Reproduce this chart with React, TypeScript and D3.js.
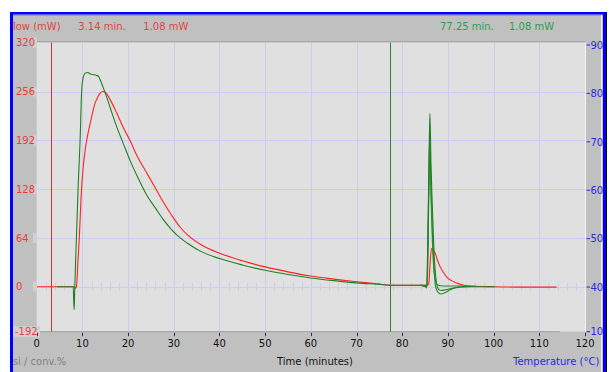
import * as d3 from 'd3'

// time axis (minutes)
const timeTicks = [0, 10, 20, 30, 40, 50, 60, 70, 80, 90, 100, 110, 120]
const zeroMinorTicks = d3.range(2, 120, 2)

// heat flow axis (mW), left side
const heatTicks = [320, 256, 192, 128, 64, 0]
const heatGrid = [256, 192, 128, 64, 0]
const heatBottomLabel = '-192'

// temperature axis (°C), right side
const tempTicks = [90, 80, 70, 60, 50, 40]
const tempBottomLabel = '10'

// cursor markers
const redCursor = { time: 3.14, heat: 1.08 }
const greenCursor = { time: 77.25, heat: 1.08 }

// run 1 (red): [time, heat flow]
const redRun: [number, number][] = [
  [0, 0], [3, 0], [8.2, 0], [8.4, -2], [8.7, 0], [9.0, 30], [9.3, 61], [9.8, 127],
  [10.2, 158], [10.6, 179], [11.2, 200], [11.7, 214], [12.3, 230], [12.8, 241],
  [13.4, 249], [13.9, 254], [14.5, 256], [15.0, 255], [16, 246], [17.5, 228],
  [19, 208], [20.4, 192], [22, 171], [24.1, 149], [26, 129], [27.6, 112],
  [29.5, 94], [31.4, 78], [33, 68], [36, 55], [40, 44], [45, 34], [50, 26],
  [55, 19.5], [60, 14], [65, 10], [70, 6.5], [75, 3.5], [77.25, 2], [80, 2], [85.5, 2],
  [85.8, 4], [86.1, 30], [86.4, 50], [86.8, 48], [87.2, 44], [87.7, 35],
  [88.3, 26], [89, 19], [89.7, 13], [90.8, 8], [91.9, 5], [93.5, 2], [95, 1],
  [100, 0], [105, -0.5], [113.8, -0.5],
]

// run 2 (green): [time, heat flow]
const greenRun: [number, number][] = [
  [4.5, 0], [8.0, 0], [8.1, -20], [8.2, -30], [8.3, -10], [8.5, 30], [8.7, 65],
  [9.1, 136], [9.5, 192], [9.85, 258], [10.2, 275], [10.6, 280], [11.2, 281],
  [11.7, 279], [12.5, 278], [13.1, 277], [13.5, 276], [13.85, 272], [14.5, 262],
  [15.3, 249], [16.4, 229], [17.5, 210], [19, 187], [20.4, 166], [22, 145],
  [24.1, 120], [26, 103], [27.6, 89], [29.5, 75], [31.4, 64], [33, 57],
  [36, 46], [40, 37], [45, 28.5], [50, 21.5], [55, 16], [60, 11.5], [65, 8], [70, 5],
  [75, 3], [77.25, 2], [80, 2], [85, 2], [85.3, -2], [85.6, 60], [85.9, 180],
  [86.06, 227], [86.3, 160], [86.5, 120], [86.8, 70], [87.0, 40], [87.2, 22],
  [87.5, 5], [87.9, -3], [88.5, -5], [89.5, -4], [91, -2], [93, 0], [100.3, 0],
]

// extra green traces around the second peak
const greenRunB: [number, number][] = [
  [84, 2], [85.4, 0], [85.7, 90], [86.0, 200], [86.2, 150], [86.5, 90],
  [86.9, 30], [87.3, 0], [87.8, -7], [88.4, -9.6], [89.3, -8], [90.5, -4],
  [92, -1], [95, 0.5],
]
const greenRunC: [number, number][] = [
  [84, 2], [85.5, 1], [85.8, 110], [86.1, 180], [86.3, 120], [86.6, 60],
  [86.9, 25], [87.3, 8], [87.8, 2], [89, 1], [92, 1], [96, 0.5],
]

const W = 613
const H = 372
const plot = { left: 36.7, right: 585, top: 42.7, bottom: 331.7 }

const x = d3.scaleLinear().domain([0, 120]).range([plot.left, plot.right])
const y = d3.scaleLinear().domain([-59, 320]).range([plot.bottom, plot.top])
const yTemp = d3.scaleLinear().domain([30.78, 90]).range([plot.bottom, 45])

const line = d3
  .line<[number, number]>()
  .x((d) => x(d[0]))
  .y((d) => y(d[1]))
  .curve(d3.curveMonotoneX)

const font = "'DejaVu Sans', Verdana, sans-serif"
const gridColor = '#ccccf2'
const redText = '#f03a3a'
const greenText = '#2e9e4e'
const blueText = '#2a2ae0'

export default function App() {
  return (
    <svg
      width={W}
      height={H}
      style={{ position: 'fixed', left: 0, top: 0, background: '#fff' }}
      fontFamily={font}
      fontSize={10}
    >
      <defs>
        <clipPath id="panel">
          <rect x={13} y={15} width={590} height={H - 15} />
        </clipPath>
        <clipPath id="plotArea">
          <rect x={plot.left} y={plot.top} width={plot.right - plot.left} height={plot.bottom - plot.top} />
        </clipPath>
      </defs>

      {/* outer grey panel */}
      <rect x={12} y={14} width={591} height={H - 14} fill="#c0c0c0" />
      <line x1={12} x2={603} y1={15.5} y2={15.5} stroke="#a0a0a0" />
      <line x1={601.5} x2={601.5} y1={15} y2={H} stroke="#f4f4f4" />

      {/* plot background */}
      <rect
        x={plot.left}
        y={plot.top}
        width={plot.right - plot.left}
        height={plot.bottom - plot.top}
        fill="#e0e0e0"
      />
      <line x1={plot.left} x2={plot.right} y1={41.5} y2={41.5} stroke="#a8a8a8" />
      <line x1={plot.right + 0.5} x2={plot.right + 0.5} y1={plot.top} y2={plot.bottom} stroke="#f4f4f4" />
      <line x1={plot.left} x2={x(114.5)} y1={plot.bottom} y2={plot.bottom} stroke="#a0a0a0" />

      {/* grid */}
      <g stroke={gridColor} strokeWidth={1}>
        {timeTicks.slice(1, -1).map((t) => (
          <line key={t} x1={Math.round(x(t)) + 0.5} x2={Math.round(x(t)) + 0.5} y1={plot.top} y2={plot.bottom} />
        ))}
        {heatGrid.map((v) => (
          <line key={v} x1={plot.left} x2={plot.right} y1={Math.round(y(v)) + 0.5} y2={Math.round(y(v)) + 0.5} />
        ))}
        {zeroMinorTicks.map((t) => (
          <line key={'m' + t} x1={Math.round(x(t)) + 0.5} x2={Math.round(x(t)) + 0.5} y1={y(0) - 4} y2={y(0) + 4} />
        ))}
      </g>

      {/* cursors */}
      <line
        x1={Math.round(x(redCursor.time)) + 0.5}
        x2={Math.round(x(redCursor.time)) + 0.5}
        y1={plot.top}
        y2={plot.bottom}
        stroke="#b83838"
      />
      <line
        x1={Math.round(x(greenCursor.time)) + 0.5}
        x2={Math.round(x(greenCursor.time)) + 0.5}
        y1={plot.top}
        y2={plot.bottom}
        stroke="#2e7e3e"
      />

      {/* curves */}
      <g clipPath="url(#plotArea)" fill="none" strokeWidth={1.1} strokeLinejoin="round">
        <path d={line(redRun) ?? ''} stroke="#ff2020" />
        <path d={line(greenRunC) ?? ''} stroke="#2a8a2a" />
        <path d={line(greenRunB) ?? ''} stroke="#2a8a2a" />
        <path d={line(greenRun) ?? ''} stroke="#1f8020" />
      </g>

      {/* left axis labels */}
      <g fill={redText}>
        {heatTicks.map((v) => (
          <g key={v}>
            <rect x={33} y={y(v) - 5} width={4} height={10} fill="#d0d0d0" />
            <text x={16} y={y(v) + 3.7}>
              {v}
            </text>
          </g>
        ))}
        <rect x={13} y={plot.bottom - 5.5} width={27} height={11} fill="#d0d0d0" />
        <text x={15} y={plot.bottom + 3.7}>
          {heatBottomLabel}
        </text>
      </g>

      {/* right axis labels */}
      <g fill={blueText}>
        {tempTicks.map((v) => (
          <g key={v}>
            <line x1={plot.right + 1.5} x2={590} y1={yTemp(v)} y2={yTemp(v)} stroke={blueText} />
            <text x={590.5} y={yTemp(v) + 3.7}>
              {v}
            </text>
          </g>
        ))}
        <line x1={plot.right + 1.5} x2={590} y1={plot.bottom} y2={plot.bottom} stroke={blueText} />
        <text x={590.5} y={plot.bottom + 3.7}>
          {tempBottomLabel}
        </text>
      </g>

      {/* time axis */}
      <g fill="#111">
        {timeTicks.map((t) => (
          <g key={t}>
            <line
              x1={Math.round(x(t)) + 0.5}
              x2={Math.round(x(t)) + 0.5}
              y1={plot.bottom + 1}
              y2={plot.bottom + 4.5}
              stroke="#333"
            />
            <text x={x(t)} y={347} textAnchor="middle">
              {t}
            </text>
          </g>
        ))}
      </g>

      {/* header and footer text */}
      <g clipPath="url(#panel)">
        <text x={-17.5} y={29.5} fill="#e04444">
          Heat flow (mW)
        </text>
        <text x={78.3} y={29.5} fill="#e04444">
          {redCursor.time.toFixed(2)} min.
        </text>
        <text x={143.3} y={29.5} fill="#e04444">
          {redCursor.heat.toFixed(2)} mW
        </text>
        <text x={440} y={29.5} fill={greenText}>
          {greenCursor.time.toFixed(2)} min.
        </text>
        <text x={509} y={29.5} fill={greenText}>
          {greenCursor.heat.toFixed(2)} mW
        </text>
        <text x={7} y={365} fill="#808080">
          Psi / conv.%
        </text>
        <text x={315} y={365} textAnchor="middle" fill="#111">
          Time (minutes)
        </text>
        <text x={513} y={365} fill={blueText}>
          Temperature (°C)
        </text>
      </g>

      {/* blue frame */}
      <rect x={10} y={12} width={596} height={2.5} fill="#0000ff" />
      <rect x={10} y={12} width={3} height={H - 12} fill="#0000ff" />
      <rect x={603} y={12} width={3} height={H - 12} fill="#0000ff" />
      <line x1={606.5} x2={606.5} y1={12} y2={H} stroke="#000" />
    </svg>
  )
}
